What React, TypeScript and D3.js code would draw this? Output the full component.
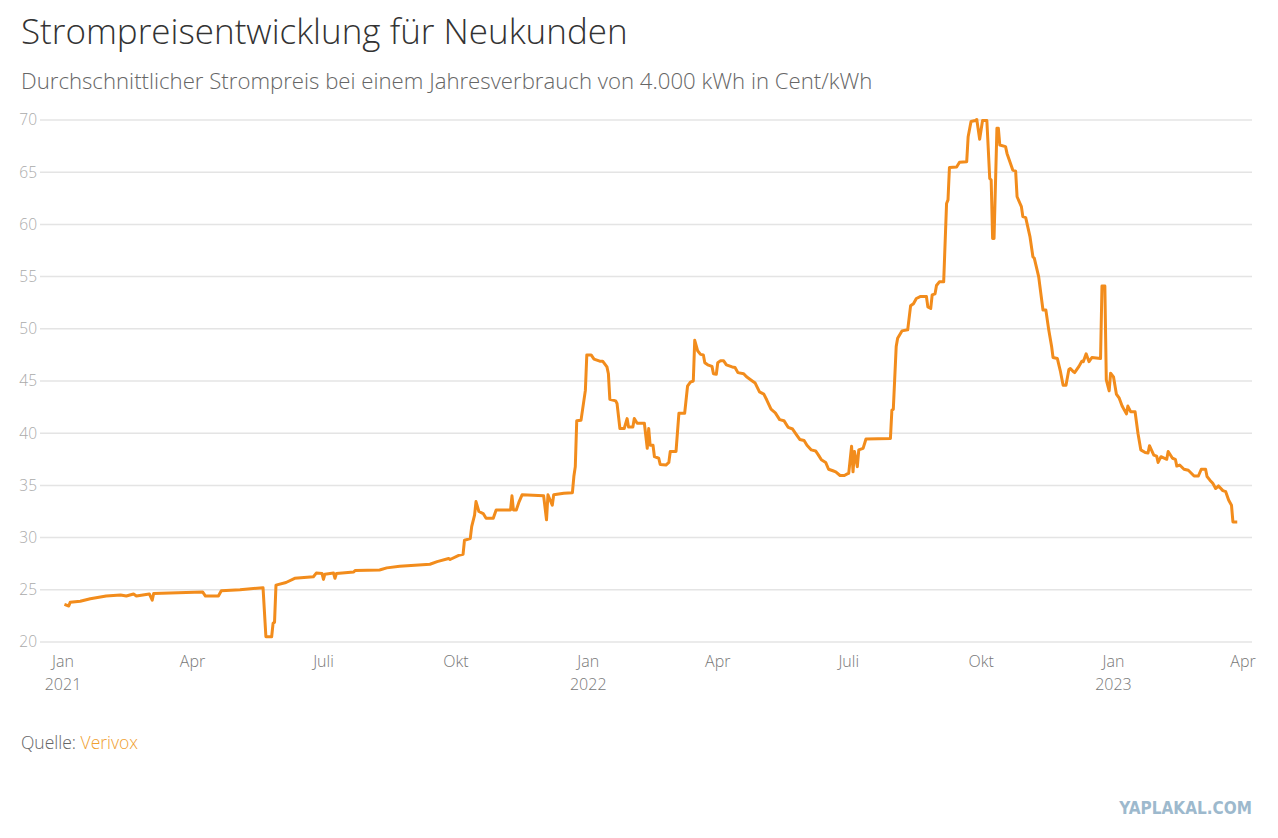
import React from "react";
import * as d3 from "d3";

// Strompreis für Neukunden (Cent/kWh)
const dates = [
  "2021-01-02", "2021-01-05", "2021-01-06", "2021-01-13", "2021-01-20", "2021-01-31",
  "2021-02-10", "2021-02-14", "2021-02-19", "2021-02-21", "2021-03-02", "2021-03-04",
  "2021-03-05", "2021-04-08", "2021-04-10", "2021-04-19", "2021-04-21", "2021-05-04",
  "2021-05-20", "2021-05-22", "2021-05-26", "2021-05-27", "2021-05-28", "2021-05-29",
  "2021-06-05", "2021-06-11", "2021-06-24", "2021-06-26", "2021-06-30", "2021-07-01",
  "2021-07-02", "2021-07-08", "2021-07-09", "2021-07-10", "2021-07-22", "2021-07-23",
  "2021-08-09", "2021-08-14", "2021-08-23", "2021-09-13", "2021-09-18", "2021-09-26",
  "2021-09-27", "2021-10-03", "2021-10-06", "2021-10-07", "2021-10-11", "2021-10-12",
  "2021-10-14", "2021-10-15", "2021-10-17", "2021-10-20", "2021-10-22", "2021-10-27",
  "2021-10-29", "2021-11-08", "2021-11-09", "2021-11-10", "2021-11-12", "2021-11-14",
  "2021-11-16", "2021-12-01", "2021-12-03", "2021-12-04", "2021-12-07", "2021-12-08",
  "2021-12-15", "2021-12-21", "2021-12-22", "2021-12-23", "2021-12-24", "2021-12-27",
  "2021-12-30", "2021-12-31",
  "2022-01-03", "2022-01-05", "2022-01-09", "2022-01-11", "2022-01-14", "2022-01-15",
  "2022-01-16", "2022-01-20", "2022-01-21", "2022-01-23", "2022-01-26", "2022-01-28",
  "2022-01-29", "2022-02-01", "2022-02-02", "2022-02-04", "2022-02-09", "2022-02-11",
  "2022-02-12", "2022-02-13", "2022-02-15", "2022-02-16", "2022-02-19", "2022-02-20",
  "2022-02-24", "2022-02-26", "2022-02-27", "2022-03-03", "2022-03-05", "2022-03-09",
  "2022-03-11", "2022-03-13", "2022-03-15", "2022-03-16", "2022-03-18", "2022-03-20",
  "2022-03-22", "2022-03-23", "2022-03-25", "2022-03-28", "2022-03-29", "2022-03-31",
  "2022-04-01", "2022-04-03", "2022-04-05", "2022-04-07", "2022-04-11", "2022-04-13",
  "2022-04-15", "2022-04-19", "2022-04-21", "2022-04-25", "2022-04-27", "2022-04-30",
  "2022-05-03", "2022-05-05", "2022-05-08", "2022-05-11", "2022-05-14", "2022-05-17",
  "2022-05-20", "2022-05-23", "2022-05-26", "2022-05-28", "2022-05-31", "2022-06-02",
  "2022-06-05", "2022-06-08", "2022-06-10", "2022-06-12", "2022-06-15", "2022-06-17",
  "2022-06-20", "2022-06-22", "2022-06-25", "2022-06-28", "2022-06-30", "2022-07-01",
  "2022-07-03", "2022-07-04", "2022-07-05", "2022-07-07", "2022-07-08", "2022-07-11",
  "2022-07-13", "2022-07-30", "2022-07-31", "2022-08-01", "2022-08-03", "2022-08-04",
  "2022-08-07", "2022-08-11", "2022-08-13", "2022-08-15", "2022-08-17", "2022-08-20",
  "2022-08-24", "2022-08-25", "2022-08-27", "2022-08-28", "2022-08-30", "2022-08-31",
  "2022-09-02", "2022-09-05", "2022-09-07", "2022-09-08", "2022-09-09", "2022-09-14",
  "2022-09-16", "2022-09-21", "2022-09-22", "2022-09-24", "2022-09-27", "2022-09-28",
  "2022-09-30", "2022-10-02", "2022-10-05", "2022-10-07", "2022-10-08", "2022-10-09",
  "2022-10-10", "2022-10-12", "2022-10-13", "2022-10-14", "2022-10-18", "2022-10-19",
  "2022-10-21", "2022-10-23", "2022-10-25", "2022-10-26", "2022-10-29", "2022-10-30",
  "2022-11-01", "2022-11-04", "2022-11-06", "2022-11-07", "2022-11-10", "2022-11-13",
  "2022-11-15", "2022-11-17", "2022-11-19", "2022-11-20", "2022-11-23", "2022-11-25",
  "2022-11-27", "2022-11-29", "2022-12-01", "2022-12-02", "2022-12-04", "2022-12-05",
  "2022-12-08", "2022-12-10", "2022-12-11", "2022-12-13", "2022-12-15", "2022-12-17",
  "2022-12-23", "2022-12-24", "2022-12-26", "2022-12-27", "2022-12-29", "2022-12-30",
  "2023-01-01", "2023-01-03", "2023-01-05", "2023-01-07", "2023-01-10", "2023-01-11",
  "2023-01-13", "2023-01-16", "2023-01-18", "2023-01-20", "2023-01-23", "2023-01-25",
  "2023-01-26", "2023-01-29", "2023-01-31", "2023-02-01", "2023-02-03", "2023-02-07",
  "2023-02-08", "2023-02-11", "2023-02-13", "2023-02-14", "2023-02-16", "2023-02-19",
  "2023-02-22", "2023-02-26", "2023-03-01", "2023-03-03", "2023-03-06", "2023-03-07",
  "2023-03-09", "2023-03-11", "2023-03-13", "2023-03-15", "2023-03-18", "2023-03-20",
  "2023-03-22", "2023-03-24", "2023-03-25", "2023-03-28",
];

const prices = [
  23.6, 23.45, 23.8, 23.9, 24.15, 24.4,
  24.5, 24.4, 24.6, 24.4, 24.6, 24.0,
  24.65, 24.8, 24.4, 24.4, 24.9, 25.0,
  25.2, 20.5, 20.5, 21.8, 21.9, 25.45,
  25.7, 26.1, 26.25, 26.6, 26.55, 26.0,
  26.5, 26.6, 26.1, 26.55, 26.7, 26.85,
  26.9, 27.1, 27.25, 27.45, 27.7, 28.0,
  27.9, 28.3, 28.4, 29.75, 29.9, 31.05,
  32.15, 33.45, 32.5, 32.3, 31.85, 31.85,
  32.65, 32.65, 34.0, 32.65, 32.65, 33.45,
  34.1, 34.0, 31.7, 34.1, 33.1, 34.1,
  34.25, 34.3, 35.85, 36.8, 41.2, 41.25,
  44.1, 47.5,
  47.5, 47.1, 46.9, 46.9, 46.35, 45.7,
  43.25, 43.1, 42.85, 40.45, 40.45, 41.4,
  40.6, 40.6, 41.4, 40.95, 40.95, 38.55,
  40.45, 38.85, 38.85, 37.75, 37.6, 37.0,
  36.95, 37.2, 38.25, 38.25, 41.9, 41.9,
  44.5, 44.9, 45.0, 48.9, 47.9, 47.55,
  47.5, 46.75, 46.55, 46.4, 45.7, 45.65,
  46.75, 46.95, 46.95, 46.55, 46.35, 46.3,
  45.8, 45.7, 45.4, 45.0, 44.8, 43.95,
  43.75, 43.2, 42.3, 41.95, 41.3, 41.2,
  40.55, 40.4, 39.8, 39.4, 39.3, 38.85,
  38.4, 38.3, 37.9, 37.45, 37.2, 36.55,
  36.4, 36.3, 35.95, 35.95, 36.1, 36.15,
  38.75, 36.3, 38.25, 36.8, 38.4, 38.55,
  39.45, 39.5, 42.2, 42.3, 48.3, 49.1,
  49.8, 49.9, 52.2, 52.4, 52.9, 53.1,
  53.1, 52.1, 51.95, 53.25, 53.35, 54.15,
  54.5, 54.5, 62.0, 62.35, 65.45, 65.5,
  65.95, 66.0, 68.4, 69.85, 69.95, 70.05,
  68.15, 69.95, 69.95, 64.4, 64.25, 58.65,
  58.65, 69.2, 69.2, 67.6, 67.45, 66.8,
  66.0, 65.2, 65.1, 62.65, 61.7, 60.75,
  60.65, 58.8, 56.9, 56.75, 55.0, 51.8,
  51.8, 49.9, 48.3, 47.25, 47.15, 46.0,
  44.6, 44.6, 46.1, 46.2, 45.9, 45.8,
  46.4, 46.9, 46.85, 47.6, 46.85, 47.25,
  47.15, 54.1, 54.1, 45.1, 44.05, 45.75,
  45.4, 43.75, 43.35, 42.6, 41.85, 42.6,
  42.05, 42.05, 40.0, 38.4, 38.15, 38.1,
  38.8, 37.9, 37.8, 37.2, 37.75, 37.5,
  38.25, 37.6, 37.5, 36.85, 36.95, 36.55,
  36.45, 35.9, 35.9, 36.55, 36.55, 35.85,
  35.5, 35.2, 34.7, 34.95, 34.5, 34.4,
  33.6, 33.1, 31.5, 31.5,
];

const yTicks = [20, 25, 30, 35, 40, 45, 50, 55, 60, 65, 70];
const monthNames = ["Jan", "Apr", "Juli", "Okt"];

const parse = d3.timeParse("%Y-%m-%d");
const FONT = "'Open Sans', 'Noto Sans', sans-serif";

export default function App() {
  const width = 1278;
  const height = 838;

  const x = d3
    .scaleTime()
    .domain([new Date(2021, 0, 1), new Date(2023, 3, 1)])
    .range([63, 1243]);
  const y = d3.scaleLinear().domain([20, 70]).range([642, 120]);

  const points = dates.map((d, i) => ({ date: parse(d)!, value: prices[i] }));
  const line = d3
    .line<{ date: Date; value: number }>()
    .x((d) => x(d.date))
    .y((d) => y(d.value));

  const xTicks = x.ticks(d3.timeMonth.every(3)!);

  return (
    <svg
      width={width}
      height={height}
      style={{ position: "absolute", left: 0, top: 0, background: "#fff" }}
      fontFamily={FONT}
    >
      <text x={21} y={44} fontSize={35} fontWeight={300} fill="#333">
        Strompreisentwicklung für Neukunden
      </text>
      <text x={21} y={89} fontSize={22.2} fontWeight={300} fill="#666">
        Durchschnittlicher Strompreis bei einem Jahresverbrauch von 4.000 kWh in Cent/kWh
      </text>

      {yTicks.map((t) => (
        <g key={t}>
          <line x1={40} x2={1252} y1={y(t)} y2={y(t)} stroke="#e4e4e4" strokeWidth={1.5} />
          <text
            x={37}
            y={y(t)}
            dy="0.35em"
            textAnchor="end"
            fontSize={15.5}
            fontWeight={300}
            fill="#aaa"
          >
            {t}
          </text>
        </g>
      ))}

      {xTicks.map((t) => (
        <g key={t.getTime()} transform={`translate(${x(t)},0)`}>
          <text y={667} textAnchor="middle" fontSize={16} fontWeight={300} fill="#777">
            {monthNames[t.getMonth() / 3]}
          </text>
          {t.getMonth() === 0 && (
            <text y={690} textAnchor="middle" fontSize={16} fontWeight={300} fill="#777">
              {t.getFullYear()}
            </text>
          )}
        </g>
      ))}

      <path
        d={line(points) ?? ""}
        fill="none"
        stroke="#f28c1c"
        strokeWidth={3}
        strokeLinejoin="round"
      />

      <text x={21} y={749} fontSize={17.5} fontWeight={300} fill="#666">
        Quelle: <tspan fill="#f0a030">Verivox</tspan>
      </text>

      <text
        x={1252}
        y={814}
        textAnchor="end"
        fontSize={17}
        fontWeight={700}
        fontFamily="'DejaVu Sans Condensed', 'DejaVu Sans', sans-serif"
        fill="#9db9cd"
      >
        YAPLAKAL.COM
      </text>
    </svg>
  );
}
